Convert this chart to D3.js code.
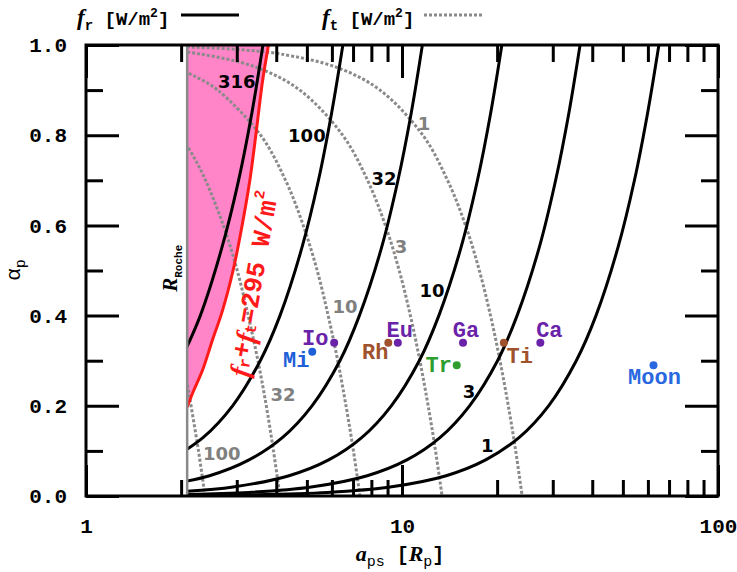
<!DOCTYPE html>
<html>
<head>
<meta charset="utf-8">
<script src="https://d3js.org/d3.v7.min.js"></script>
<style>
    body { margin: 0; background: #fff; }
    text { fill: #000; }
</style>
</head>
<body>
<svg id="chart" width="737" height="572"></svg>
<script>

// Roche limit, in planet radii
const rocheA = 2.09

// reflected flux contours f_r [W/m2], points are [a_ps, alpha_p]
const frLevels = ["316", "100", "32", "10", "3", "1"]
const frCurves = [
    [[3.63,1],[3.35,0.85],[3.04,0.7],[2.69,0.55],[2.30,0.4],[1.99,0.3]],
    [[6.5,1],[5.99,0.85],[5.44,0.7],[4.82,0.55],[4.11,0.4],[3.56,0.3],[2.91,0.2],[2.35,0.13],[1.84,0.08]],
    [[11.6,1],[10.7,0.85],[9.71,0.7],[8.61,0.55],[7.33,0.4],[6.36,0.3],[5.19,0.2],[4.19,0.13],[3.28,0.08],[2.46,0.045],[1.64,0.02]],
    [[20.7,1],[19.09,0.85],[17.33,0.7],[15.36,0.55],[13.08,0.4],[11.34,0.3],[9.25,0.2],[7.47,0.13],[5.86,0.08],[4.39,0.045],[2.92,0.02],[1.85,0.008]],
    [[36.6,1],[33.75,0.85],[30.63,0.7],[27.16,0.55],[23.13,0.4],[20.06,0.3],[16.36,0.2],[13.21,0.13],[10.36,0.08],[7.76,0.045],[5.16,0.02],[3.27,0.008],[1.64,0.002]],
    [[65,1],[59.9,0.85],[54.4,0.7],[48.2,0.55],[41.1,0.4],[35.6,0.3],[29.1,0.2],[23.5,0.13],[18.4,0.08],[13.8,0.045],[9.17,0.02],[5.81,0.008],[2.91,0.002],[1.45,0.0005]]
]
const frLabelPos = [[3.0,0.918],[5.0,0.80],[8.77,0.705],[12.44,0.455],[16.3,0.231],[18.6,0.111]]

// thermal flux contours f_t [W/m2]
const ftLevels = ["1", "3", "10", "32", "100"]
const ftCurves = [
    [[1.8,0.9965],[2.21,0.995],[3.02,0.99],[4.13,0.98],[6.24,0.95],[8.52,0.9],[11.64,0.8],[13.94,0.7],[15.89,0.6],[17.57,0.5],[19.06,0.4],[20.42,0.3],[21.7,0.2],[22.9,0.1],[24.0,0]],
    [[1.68,0.99],[2.30,0.98],[3.48,0.95],[4.75,0.9],[6.49,0.8],[7.78,0.7],[8.86,0.6],[9.80,0.5],[10.63,0.4],[11.39,0.3],[12.1,0.2],[12.77,0.1],[13.39,0]],
    [[1.91,0.95],[2.22,0.93],[2.61,0.9],[3.57,0.8],[4.28,0.7],[4.87,0.6],[5.39,0.5],[5.84,0.4],[6.26,0.3],[6.65,0.2],[7.02,0.1],[7.36,0]],
    [[1.99,0.8],[2.20,0.75],[2.39,0.7],[2.72,0.6],[3.01,0.5],[3.26,0.4],[3.50,0.3],[3.72,0.2],[3.92,0.1],[4.11,0]],
    [[1.94,0.4],[2.03,0.3],[2.09,0.25],[2.15,0.2],[2.27,0.1],[2.38,0]]
]
const ftLabelPos = [[11.74,0.827],[9.93,0.554],[6.60,0.421],[4.20,0.226],[2.69,0.095]]

// f_r + f_t = 295 W/m2
const limitCurve = [[3.78,1],[3.62,0.92],[3.46,0.81],[3.30,0.70],[3.10,0.59],[2.92,0.50],[2.70,0.41],[2.51,0.345],[2.34,0.28],[2.18,0.23],[2.09,0.197]]
const limitLabelPos = [3.42, 0.470]

// moons
const moonNames = ["Io", "Eu", "Ga", "Ca", "Rh", "Ti", "Mi", "Tr", "Moon"]
const moonA     = [6.1, 9.7, 15.6, 27.4, 9.05, 21.0, 5.2, 14.9, 62.5]
const moonAlpha = [0.34, 0.34, 0.34, 0.34, 0.34, 0.34, 0.32, 0.29, 0.29]
const moonHost  = ["J", "J", "J", "J", "S", "S", "U", "N", "E"]

const xMajor = [1, 10, 100]
const xMinor = [2,3,4,5,6,7,8,9,20,30,40,50,60,70,80,90]
const yMajor = [0, 0.2, 0.4, 0.6, 0.8, 1.0]
const yMinor = [0.1, 0.3, 0.5, 0.7, 0.9]

const hostColor = {J: "#6a23a8", S: "#a0522d", U: "#1f5fd8", N: "#2e9e2e", E: "#2a68e0"}
// label offsets from the dot, px
const moonOffset = {Io: [-19,-3], Eu: [2,-11], Ga: [3,-11], Ca: [9,-11], Rh: [-13,11], Ti: [16,15], Mi: [-16,10], Tr: [-18,1], Moon: [1,13]}

const mono = "'Liberation Mono', 'DejaVu Sans Mono', monospace"
const sans = "'DejaVu Sans', Verdana, sans-serif"
const serif = "'Liberation Serif', 'DejaVu Serif', serif"

let svg = d3.select("#chart")

let x = d3.scaleLog().domain([1, 100]).range([86, 718])
let y = d3.scaleLinear().domain([0, 1]).range([496, 45])

let line = d3.line()
    .x(d => x(d[0]))
    .y(d => y(d[1]))
    .curve(d3.curveCatmullRom.alpha(0.5))

svg.append("clipPath").attr("id", "clip")
    .append("rect")
    .attr("x", x(rocheA)).attr("y", y(1))
    .attr("width", x(100) - x(rocheA)).attr("height", y(0) - y(1))

let plot = svg.append("g").attr("clip-path", "url(#clip)")

// pink zone left of the limit line
plot.append("path")
    .attr("d", "M" + x(rocheA) + "," + y(1) + "L" + line(limitCurve).slice(1) + "Z")
    .attr("fill", "#ff85c8")
    .attr("stroke", "none")

plot.selectAll(".ft")
    .data(ftCurves)
    .enter().append("path")
    .attr("class", "ft")
    .attr("d", line)
    .attr("fill", "none")
    .attr("stroke", "#8a8a8a")
    .attr("stroke-width", 3)
    .attr("stroke-dasharray", "3,2")

plot.selectAll(".fr")
    .data(frCurves)
    .enter().append("path")
    .attr("class", "fr")
    .attr("d", line)
    .attr("fill", "none")
    .attr("stroke", "#000")
    .attr("stroke-width", 3)

plot.append("path")
    .attr("d", line(limitCurve))
    .attr("fill", "none")
    .attr("stroke", "#ff1a1a")
    .attr("stroke-width", 3)

// Roche limit
svg.append("line")
    .attr("x1", x(rocheA)).attr("x2", x(rocheA))
    .attr("y1", y(0)).attr("y2", y(1))
    .attr("stroke", "#8a8a8a")
    .attr("stroke-width", 2.5)

svg.append("text")
    .attr("transform", `translate(${x(rocheA) - 10},${y(0.505)}) rotate(-90)`)
    .attr("text-anchor", "middle")
    .style("font-family", serif).style("font-weight", "bold").style("font-style", "italic")
    .style("font-size", "21px")
    .call(t => {
        t.append("tspan").text("R")
        t.append("tspan").attr("dy", 5).style("font-size", "11px").style("font-style", "normal")
            .style("font-family", mono).text("Roche")
    })

// contour labels
svg.selectAll(".frlab")
    .data(frLevels)
    .enter().append("text")
    .attr("class", "frlab")
    .attr("x", (d, i) => x(frLabelPos[i][0]))
    .attr("y", (d, i) => y(frLabelPos[i][1]))
    .attr("text-anchor", "middle")
    .attr("dominant-baseline", "central")
    .style("font-family", sans).style("font-weight", "bold").style("font-size", "18px")
    .text(d => d)

svg.selectAll(".ftlab")
    .data(ftLevels)
    .enter().append("text")
    .attr("class", "ftlab")
    .attr("x", (d, i) => x(ftLabelPos[i][0]))
    .attr("y", (d, i) => y(ftLabelPos[i][1]))
    .attr("text-anchor", "middle")
    .attr("dominant-baseline", "central")
    .style("font-family", sans).style("font-weight", "bold").style("font-size", "18px")
    .style("fill", "#808080")
    .text(d => d)

// limit label along the red line
svg.append("text")
    .attr("transform", `translate(${x(limitLabelPos[0])},${y(limitLabelPos[1])}) rotate(-80)`)
    .attr("text-anchor", "middle")
    .attr("dominant-baseline", "central")
    .style("font-family", mono).style("font-weight", "bold").style("font-size", "26px")
    .style("fill", "#ff1a1a")
    .call(t => {
        t.append("tspan").style("font-family", serif).style("font-style", "italic").style("font-size", "28px").text("f")
        t.append("tspan").attr("dy", 5).style("font-size", "16px").text("r")
        t.append("tspan").attr("dy", -5).text("+")
        t.append("tspan").style("font-family", serif).style("font-style", "italic").style("font-size", "28px").text("f")
        t.append("tspan").attr("dy", 5).style("font-size", "16px").text("t")
        t.append("tspan").attr("dy", -5).text("=295 W/m")
        t.append("tspan").attr("dy", -10).style("font-size", "15px").text("2")
    })

// moons
let moons = moonNames.map((n, i) => ({name: n, a: moonA[i], alpha: moonAlpha[i], host: moonHost[i]}))

svg.selectAll(".moon")
    .data(moons)
    .enter().append("circle")
    .attr("class", "moon")
    .attr("cx", d => x(d.a))
    .attr("cy", d => y(d.alpha))
    .attr("r", 4)
    .attr("fill", d => hostColor[d.host])

svg.selectAll(".moonlab")
    .data(moons)
    .enter().append("text")
    .attr("class", "moonlab")
    .attr("x", d => x(d.a) + moonOffset[d.name][0])
    .attr("y", d => y(d.alpha) + moonOffset[d.name][1])
    .attr("text-anchor", "middle")
    .attr("dominant-baseline", "central")
    .style("font-family", mono).style("font-weight", "bold").style("font-size", "22px")
    .style("fill", d => hostColor[d.host])
    .text(d => d.name)

// axes, ticks point inward on all four sides
function styleAxis(g) {
    g.select(".domain").remove()
    g.selectAll("line").attr("stroke", "#000").attr("stroke-width", 3)
    g.selectAll("text").style("font-family", mono).style("font-weight", "bold").style("font-size", "21px").style("fill", "#000")
}

svg.append("g").attr("transform", `translate(0,${y(0)})`)
    .call(d3.axisBottom(x).tickValues(xMajor).tickSize(-31).tickPadding(22).tickFormat(d3.format("d")))
    .call(styleAxis)
svg.append("g").attr("transform", `translate(0,${y(0)})`)
    .call(d3.axisBottom(x).tickValues(xMinor).tickSize(-16).tickFormat(""))
    .call(styleAxis)
svg.append("g").attr("transform", `translate(0,${y(1)})`)
    .call(d3.axisTop(x).tickValues(xMajor).tickSize(-33).tickFormat(""))
    .call(styleAxis)
svg.append("g").attr("transform", `translate(0,${y(1)})`)
    .call(d3.axisTop(x).tickValues(xMinor).tickSize(-17).tickFormat(""))
    .call(styleAxis)
svg.append("g").attr("transform", `translate(${x(1)},0)`)
    .call(d3.axisLeft(y).tickValues(yMajor).tickSize(-33).tickPadding(19).tickFormat(d3.format(".1f")))
    .call(styleAxis)
svg.append("g").attr("transform", `translate(${x(1)},0)`)
    .call(d3.axisLeft(y).tickValues(yMinor).tickSize(-17).tickFormat(""))
    .call(styleAxis)
svg.append("g").attr("transform", `translate(${x(100)},0)`)
    .call(d3.axisRight(y).tickValues(yMajor).tickSize(-33).tickFormat(""))
    .call(styleAxis)
svg.append("g").attr("transform", `translate(${x(100)},0)`)
    .call(d3.axisRight(y).tickValues(yMinor).tickSize(-17).tickFormat(""))
    .call(styleAxis)

svg.append("rect")
    .attr("x", x(1)).attr("y", y(1))
    .attr("width", x(100) - x(1)).attr("height", y(0) - y(1))
    .attr("fill", "none").attr("stroke", "#000").attr("stroke-width", 3)

// axis titles
svg.append("text")
    .attr("x", 400).attr("y", 561)
    .attr("text-anchor", "middle")
    .style("font-family", mono).style("font-weight", "bold").style("font-size", "20px")
    .call(t => {
        t.append("tspan").style("font-family", serif).style("font-style", "italic").style("font-size", "22px").text("a")
        t.append("tspan").attr("dy", 5).style("font-size", "15px").style("font-weight", "normal").text("ps")
        t.append("tspan").attr("dy", -5).text(" [")
        t.append("tspan").style("font-family", serif).style("font-style", "italic").style("font-size", "22px").text("R")
        t.append("tspan").attr("dy", 5).style("font-size", "15px").style("font-weight", "normal").text("p")
        t.append("tspan").attr("dy", -5).text("]")
    })

svg.append("text")
    .attr("transform", "translate(20,270) rotate(-90)")
    .attr("text-anchor", "middle")
    .style("font-family", mono).style("font-size", "21px")
    .call(t => {
        t.append("tspan").text("α")
        t.append("tspan").attr("dy", 5).style("font-size", "15px").text("p")
    })

// legend
function legendLabel(xPos, sub) {
    let t = svg.append("text")
        .attr("x", xPos).attr("y", 25)
        .style("font-family", mono).style("font-weight", "bold").style("font-size", "19px")
    t.append("tspan").style("font-family", serif).style("font-style", "italic").style("font-size", "23px").text("f")
    t.append("tspan").attr("dy", 5).style("font-size", "14px").text(sub)
    t.append("tspan").attr("dy", -5).text(" [W/m")
    t.append("tspan").attr("dy", -8).style("font-size", "13px").text("2")
    t.append("tspan").attr("dy", 8).text("]")
}
legendLabel(77, "r")
legendLabel(322, "t")

svg.append("line")
    .attr("x1", 181).attr("x2", 239).attr("y1", 15).attr("y2", 15)
    .attr("stroke", "#000").attr("stroke-width", 3)
svg.append("line")
    .attr("x1", 424).attr("x2", 483).attr("y1", 15).attr("y2", 15)
    .attr("stroke", "#8a8a8a").attr("stroke-width", 3).attr("stroke-dasharray", "3,2")

</script>
</body>
</html>
